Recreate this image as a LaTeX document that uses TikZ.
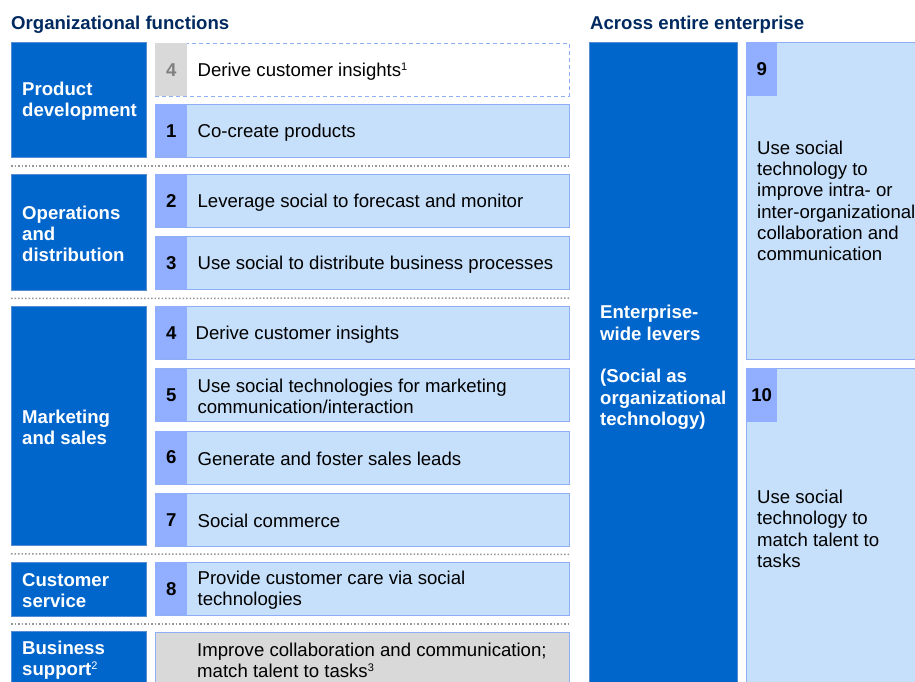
\documentclass[tikz,border=0pt]{standalone}
\usepackage{fontspec}
\setmainfont{Liberation Sans}
\usetikzlibrary{positioning, calc}
\definecolor{navy}{RGB}{0,41,96}
\definecolor{darkblue}{RGB}{0,102,204}
\definecolor{grpline}{RGB}{84,141,212}
\definecolor{rowfill}{RGB}{198,223,250}
\definecolor{rowline}{RGB}{142,174,245}
\definecolor{tabfill}{RGB}{146,175,255}
\definecolor{greyfill}{RGB}{217,217,217}
\definecolor{sepgrey}{RGB}{150,150,150}
\newcommand{\bigfont}{\fontsize{18.6}{21.3}\selectfont}
\newcommand{\supnum}[1]{\raisebox{6pt}{\fontsize{11}{11}\selectfont\mdseries #1}}
\tikzstyle{grpbox} = [rectangle, anchor=north west, 
minimum width=135pt, 
draw=grpline, 
fill=darkblue, 
line width=0.8pt]
\tikzstyle{grplabel} = [text=white, font=\bigfont\bfseries, align=left, inner sep=0pt, yshift=-1.5pt]
\tikzstyle{rowbox} = [rectangle, anchor=north west, 
minimum width=414pt, 
minimum height=53pt, 
draw=rowline, 
fill=rowfill, 
line width=0.8pt]
\tikzstyle{numtab} = [rectangle, anchor=north west, minimum width=32pt, minimum height=53pt, fill=tabfill, font=\bigfont\bfseries, inner sep=0pt]
\tikzstyle{rowtext} = [font=\bigfont, align=left, inner sep=0pt, yshift=-1.5pt]
\tikzstyle{heading} = [text=navy, font=\bigfont\bfseries, anchor=west, inner sep=0pt]
\tikzstyle{sep} = [sepgrey, line width=1.5pt, dotted]

\begin{document}
\begin{tikzpicture}[x=1pt, y=-1pt]
        \useasboundingbox (0,0) rectangle (915,682);
        \clip (0,0) rectangle (915,682);
        % headings
        \node (hof) [heading] at (11,24.5) {Organizational functions};
        \node (hae) [heading] at (590,24.5) {Across entire enterprise};
        % functions
        \node (pd) [grpbox, minimum height=115pt] at (11,42) {};
        \node [grplabel, right=11pt of pd.west] {Product\\development};
        \node (op) [grpbox, minimum height=116pt] at (11,174) {};
        \node [grplabel, right=11pt of op.west] {Operations\\and\\distribution};
        \node (ms) [grpbox, minimum height=239pt] at (11,306) {};
        \node [grplabel, right=11pt of ms.west] {Marketing\\and sales};
        \node (cs) [grpbox, minimum height=54pt] at (11,562) {};
        \node [grplabel, right=11pt of cs.west] {Customer\\service};
        \node (bs) [grpbox, minimum height=58pt] at (11,631) {};
        \node [grplabel, right=11pt of bs.west, yshift=2pt] {Business\\support\supnum{2}};
        % levers
        \node (r4a) [rowbox, fill=white, dash pattern=on 4pt off 3pt] at (155,43) {};
        \node (t4a) [numtab, fill=greyfill, text=gray] at (r4a.north west) {4};
        \node (x4a) [rowtext, right=10pt of t4a] {Derive customer insights\supnum{1}};
        \node (r1) [rowbox] at (155,104) {};
        \node (t1) [numtab] at (r1.north west) {1};
        \node (x1) [rowtext, right=10pt of t1] {Co-create products};
        \node (r2) [rowbox] at (155,174) {};
        \node (t2) [numtab] at (r2.north west) {2};
        \node (x2) [rowtext, right=10pt of t2] {Leverage social to forecast and monitor};
        \node (r3) [rowbox, below=8.5pt of r2] {};
        \node (t3) [numtab] at (r3.north west) {3};
        \node (x3) [rowtext, right=10pt of t3] {Use social to distribute business processes};
        \node (r4) [rowbox] at (155,306) {};
        \node (t4) [numtab] at (r4.north west) {4};
        \node (x4) [rowtext, right=8pt of t4] {Derive customer insights};
        \node (r5) [rowbox, below=8.5pt of r4] {};
        \node (t5) [numtab] at (r5.north west) {5};
        \node (x5) [rowtext, right=10pt of t5] {Use social technologies for marketing\\communication/interaction};
        \node (r6) [rowbox, below=8.5pt of r5] {};
        \node (t6) [numtab] at (r6.north west) {6};
        \node (x6) [rowtext, right=10pt of t6] {Generate and foster sales leads};
        \node (r7) [rowbox, below=8.5pt of r6] {};
        \node (t7) [numtab] at (r7.north west) {7};
        \node (x7) [rowtext, right=10pt of t7] {Social commerce};
        \node (r8) [rowbox] at (155,562) {};
        \node (t8) [numtab] at (r8.north west) {8};
        \node (x8) [rowtext, right=10pt of t8] {Provide customer care via social\\technologies};
        \node (rbs) [rowbox, fill=greyfill, minimum height=58pt] at (155,632) {};
        \node (xbs) [rowtext, right=42pt of rbs.west, yshift=2.5pt] {Improve collaboration and communication;\\match talent to tasks\supnum{3}};
        % separators
        \draw [sep] ($(pd.south west)!.5!(op.north west)$) -- ($(r1.south east)!.5!(r2.north east)$);
        \draw [sep] ($(op.south west)!.5!(ms.north west)$) -- ($(r3.south east)!.5!(r4.north east)$);
        \draw [sep] ($(ms.south west)!.5!(cs.north west)$) -- ($(r7.south east)!.5!(r8.north east)$);
        \draw [sep] ($(cs.south west)!.5!(bs.north west)$) -- ($(r8.south east)!.5!(rbs.north east)$);
        % enterprise-wide
        \node (ent) [grpbox, minimum width=148pt, minimum height=647pt] at (589,42) {};
        \node [grplabel, right=11pt of ent.west] {Enterprise-\\wide levers\\[21.3pt](Social as\\organizational\\technology)};
        \node (r9) [rowbox, minimum width=180pt, minimum height=317pt] at (746,42) {};
        \node (t9) [numtab, minimum width=31pt, minimum height=54pt] at (r9.north west) {9};
        \node (x9) [rowtext, right=11pt of r9.west, yshift=1.5pt] {Use social\\technology to\\improve intra- or\\inter-organizational\\collaboration and\\communication};
        \node (r10) [rowbox, minimum width=180pt, minimum height=321pt] at (746,368) {};
        \node (t10) [numtab, minimum width=31pt, minimum height=54pt] at (r10.north west) {10};
        \node (x10) [rowtext, right=11pt of r10.west, yshift=1.5pt] {Use social\\technology to\\match talent to\\tasks};
    \end{tikzpicture}
\end{document}
